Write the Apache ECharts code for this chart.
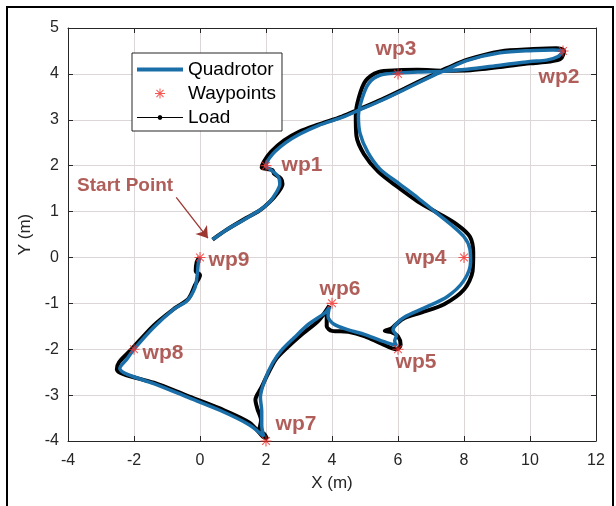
<!DOCTYPE html>
<html>
<head>
<meta charset="utf-8">
<script src="https://cdn.jsdelivr.net/npm/echarts@6/dist/echarts.min.js"></script>
<style>
html,body{margin:0;padding:0;background:#fff;}
#chart{width:616px;height:506px;}
</style>
</head>
<body>
<div id="chart"></div>
<script>
// ---- data ----
const quadX = [0.38,0.8,1.4,1.85,2.1,2.3,2.42,2.38,2.2,2.0,2.2,2.6,3.0,3.6,4.3,4.85,5.5,6.2,7.0,7.4,8.08,9.09,10.1,10.7,11.0,10.85,10.5,10.0,9.1,8.1,7.4,6.6,6.0,5.45,5.12,4.92,4.8,4.85,5.08,5.45,6.05,6.6,7.08,7.6,8.0,8.18,8.2,8.0,7.5,6.8,6.2,5.95,5.85,5.95,5.9,5.95,5.5,5.0,4.5,4.05,3.88,3.92,3.8,3.3,2.85,2.5,2.2,1.95,1.83,1.87,1.87,1.93,1.5,0.6,-0.4,-1.4,-2.2,-2.43,-2.2,-2.0,-1.4,-0.8,-0.4,-0.15,-0.08,-0.05,0.0];
const quadY = [0.39,0.6,0.85,1.05,1.2,1.4,1.6,1.75,1.88,2.0,2.25,2.5,2.68,2.88,3.05,3.22,3.42,3.66,3.94,4.07,4.29,4.46,4.51,4.52,4.5,4.38,4.3,4.27,4.19,4.1,4.06,4.04,4.02,3.97,3.8,3.48,3.08,2.7,2.3,1.93,1.6,1.3,1.02,0.72,0.45,0.18,-0.1,-0.5,-0.85,-1.1,-1.3,-1.45,-1.58,-1.7,-1.82,-1.92,-1.82,-1.68,-1.58,-1.45,-1.28,-1.08,-1.2,-1.45,-1.75,-2.0,-2.3,-2.7,-3.05,-3.35,-3.65,-3.9,-3.65,-3.33,-3.04,-2.75,-2.55,-2.42,-2.2,-2.0,-1.52,-1.13,-0.95,-0.65,-0.35,-0.12,0.0];

const loadX = [0.38,0.8,1.4,1.8,2.1,2.35,2.5,2.45,2.25,2.2,2.0,1.87,1.93,2.15,2.55,3.0,3.6,4.3,4.85,5.5,6.2,7.0,7.5,8.1,9.1,10.1,10.8,11.03,10.93,10.6,10.0,9.1,8.2,7.4,6.6,6.0,5.4,5.02,4.82,4.72,4.74,4.97,5.4,6.0,6.6,7.2,7.8,8.18,8.28,8.26,8.0,7.4,6.7,6.2,5.95,5.8,5.6,5.8,6.0,6.08,5.95,5.5,5.0,4.5,4.0,3.84,3.84,3.92,3.6,3.1,2.65,2.3,2.05,1.85,1.68,1.74,1.85,1.8,1.95,2.03,1.9,1.5,0.6,-0.4,-1.4,-2.3,-2.52,-2.45,-2.1,-1.4,-0.75,-0.35,-0.15,0.0,-0.13,-0.1,-0.02];
const loadY = [0.39,0.6,0.86,1.02,1.2,1.4,1.6,1.72,1.82,1.9,1.93,1.96,2.08,2.3,2.55,2.74,2.9,3.07,3.24,3.44,3.68,3.96,4.13,4.31,4.49,4.54,4.56,4.5,4.33,4.27,4.23,4.15,4.08,4.07,4.09,4.08,4.04,3.85,3.5,3.1,2.65,2.25,1.87,1.53,1.22,0.97,0.71,0.45,0.1,-0.3,-0.7,-1.02,-1.2,-1.32,-1.45,-1.55,-1.6,-1.63,-1.72,-1.9,-2.0,-1.88,-1.72,-1.62,-1.6,-1.5,-1.25,-1.05,-1.37,-1.67,-1.96,-2.22,-2.55,-2.85,-3.1,-3.3,-3.55,-3.75,-3.85,-3.95,-3.9,-3.6,-3.29,-3.01,-2.73,-2.55,-2.44,-2.28,-2.02,-1.48,-1.1,-0.9,-0.6,-0.38,-0.3,-0.1,0.0];

const wpNames = ['wp1','wp2','wp3','wp4','wp5','wp6','wp7','wp8','wp9'];
const wpX = [2, 11, 6, 8, 6, 4, 2, -2, 0];
const wpY = [2, 4.5, 4, 0, -2, -1, -4, -2, 0];

const startLabel = 'Start Point';
const startText = [-2.27, 1.56];
const startArrow = [[-0.72, 1.31], [0.24, 0.42]];

// ---- layout / style (not data) ----
const labelOffset = {
  wp1: [36, 0], wp2: [-4, 26], wp3: [-2, -25], wp4: [-38, 1], wp5: [18, 13],
  wp6: [8, -14], wp7: [30, -17], wp8: [29, 4], wp9: [29, 3]
};
const asterisk = 'path://M0,4.5 L10,4.5 L10,5.5 L0,5.5 Z M4.5,0 L5.5,0 L5.5,10 L4.5,10 Z M1.1,1.8 L1.8,1.1 L8.9,8.2 L8.2,8.9 Z M8.2,1.1 L8.9,1.8 L1.8,8.9 L1.1,8.2 Z';
const loadIcon = 'path://M0,4.4 L46,4.4 L46,5.6 L0,5.6 Z M23,2.6 L24.7,3.3 L25.4,5 L24.7,6.7 L23,7.4 L21.3,6.7 L20.6,5 L21.3,3.3 Z';
const quadIcon = 'path://M0,3 L46,3 L46,7 L0,7 Z';
const labColor = '#9c3631';
const blue = '#1a6fa9';
const axColor = '#262626';
const gridColor = '#dcd6d6';
const font = 'Liberation Sans, Arial, sans-serif';

const zip = (xs, ys) => xs.map((x, i) => [x, ys[i]]);

const chart = echarts.init(document.getElementById('chart'), null, {renderer: 'canvas'});
const axisCommon = {
  axisLine: {show: true, onZero: false, lineStyle: {color: axColor, width: 1}},
  axisTick: {show: true, inside: true, length: 5, lineStyle: {color: axColor}},
};
chart.setOption({
  animation: false,
  backgroundColor: '#fff',
  graphic: [{
    type: 'rect', shape: {x: 7, y: 7, width: 606, height: 520}, silent: true,
    style: {fill: 'none', stroke: '#000', lineWidth: 2}, z: 100
  }],
  grid: {left: 68, right: 20, top: 28, bottom: 65, containLabel: false},
  legend: {
    orient: 'vertical', left: 132, top: 53,
    padding: [7, 6, 4, 5], itemGap: 5, itemWidth: 46, itemHeight: 10,
    backgroundColor: '#fff', borderColor: axColor, borderWidth: 1, borderRadius: 0,
    textStyle: {fontFamily: font, fontSize: 19, color: '#000'},
    data: [
      {name: 'Quadrotor', icon: quadIcon, itemStyle: {color: blue}},
      {name: 'Waypoints'},
      {name: 'Load', icon: loadIcon, itemStyle: {color: '#000'}}
    ]
  },
  xAxis: [
    Object.assign({
      type: 'value', min: -4, max: 12, interval: 2, position: 'bottom',
      name: 'X (m)', nameLocation: 'middle', nameGap: 34,
      nameTextStyle: {fontFamily: font, fontSize: 17, color: axColor},
      axisLabel: {fontFamily: font, fontSize: 16, color: axColor, margin: 12},
      splitLine: {show: true, lineStyle: {color: gridColor, width: 1}}
    }, axisCommon),
    Object.assign({
      type: 'value', min: -4, max: 12, interval: 2, position: 'top',
      axisLabel: {show: false}, splitLine: {show: false}
    }, axisCommon)
  ],
  yAxis: [
    Object.assign({
      type: 'value', min: -4, max: 5, interval: 1, position: 'left',
      name: 'Y (m)', nameLocation: 'middle', nameGap: 26, nameRotate: 90,
      nameTextStyle: {fontFamily: font, fontSize: 17, color: axColor},
      axisLabel: {fontFamily: font, fontSize: 16, color: axColor, margin: 9},
      splitLine: {show: true, lineStyle: {color: gridColor, width: 1}}
    }, axisCommon),
    Object.assign({
      type: 'value', min: -4, max: 5, interval: 1, position: 'right',
      axisLabel: {show: false}, splitLine: {show: false}
    }, axisCommon)
  ],
  series: [
    {
      name: 'Load', type: 'line', data: zip(loadX, loadY), z: 2,
      symbol: 'circle', symbolSize: 3, showSymbol: false, smooth: 0.3,
      lineStyle: {color: '#000', width: 4}, itemStyle: {color: '#000'},
      emphasis: {disabled: true}
    },
    {
      name: 'Quadrotor', type: 'line', data: zip(quadX, quadY), z: 3,
      symbol: 'none', smooth: 0.3,
      lineStyle: {color: blue, width: 3.5}, itemStyle: {color: blue},
      emphasis: {disabled: true}
    },
    {
      name: 'Waypoints', type: 'scatter', z: 4,
      symbol: asterisk, symbolSize: 11,
      itemStyle: {color: '#f2302a'},
      emphasis: {disabled: true},
      data: wpNames.map((n, i) => ({
        value: [wpX[i], wpY[i]], name: n,
        label: {
          show: true, position: 'inside', offset: labelOffset[n],
          formatter: n, align: 'center', verticalAlign: 'middle',
          fontFamily: font, fontWeight: 'bold', fontSize: 21, color: labColor
        }
      }))
    },
    {
      name: 'annot', type: 'scatter', z: 4, symbolSize: 0, silent: true,
      data: [{value: startText, label: {
        show: true, position: 'inside', formatter: startLabel,
        fontFamily: font, fontWeight: 'bold', fontSize: 19, color: labColor
      }}],
      markLine: {
        silent: true, symbol: ['none', 'arrow'], symbolSize: 11,
        label: {show: false}, emphasis: {disabled: true},
        lineStyle: {color: labColor, width: 1.3, type: 'solid'},
        data: [[{coord: startArrow[0]}, {coord: startArrow[1]}]]
      }
    }
  ]
});
</script>
</body>
</html>
